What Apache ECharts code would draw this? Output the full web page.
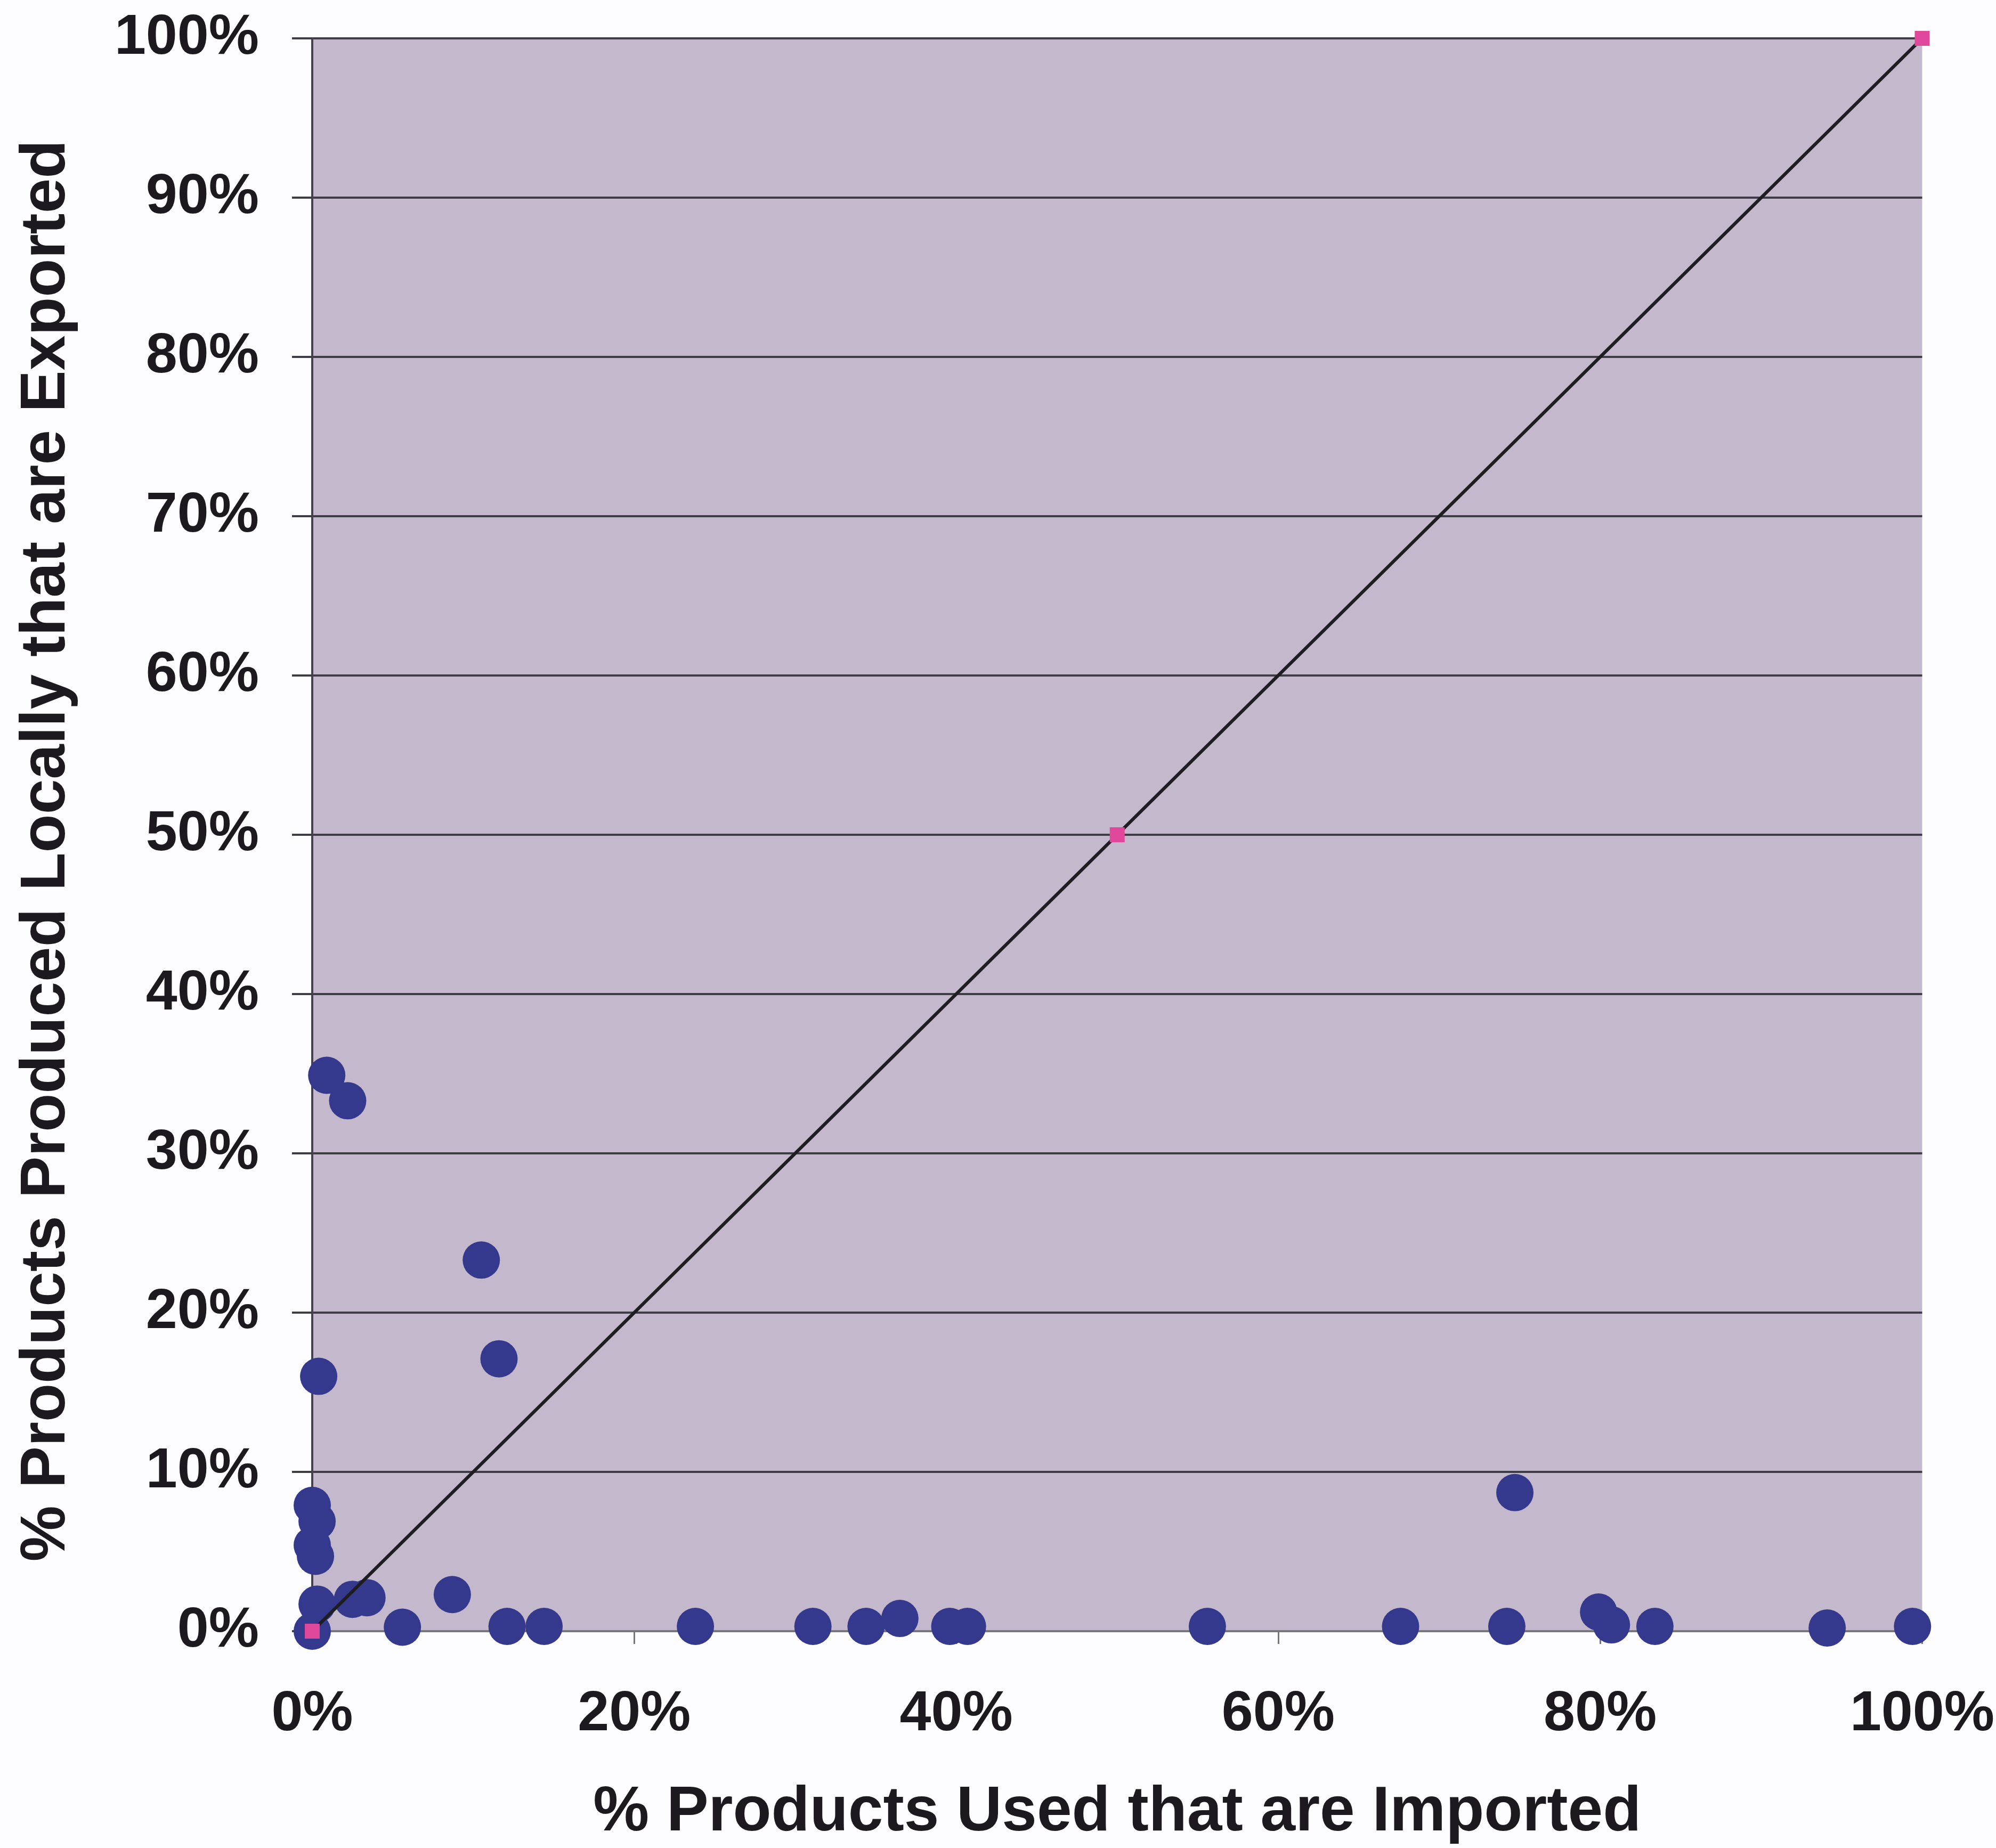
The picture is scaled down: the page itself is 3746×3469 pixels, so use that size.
<!DOCTYPE html>
<html>
<head>
<meta charset="utf-8">
<title>Imported vs Exported Products</title>
<script src="https://cdn.jsdelivr.net/npm/echarts@6/dist/echarts.min.js"></script>
<style>
  html, body { margin: 0; padding: 0; background: #fdfcff; }
  #chart { width: 3746px; height: 3469px; }
</style>
</head>
<body>
<div id="chart"></div>
<script>
// Share of products used that are imported (x) and share of locally produced
// products that are exported (y), one point per respondent, in percent.
const importedPct = [
  0, 0.3, 2.5, 3.4, 8.7, 0, 0.3, 0, 0.2, 5.6, 12.1, 14.4, 23.8, 31.1, 34.4, 36.5,
  39.6, 40.7, 55.6, 67.6, 74.2, 74.7, 79.9, 80.7, 83.4, 94.1, 99.4,
  0.9, 2.2, 10.5, 11.6, 0.4
];
const exportedPct = [
  0, 1.7, 2.0, 2.1, 2.3, 7.9, 6.9, 5.4, 4.7, 0.25, 0.3, 0.3, 0.3, 0.3, 0.3, 0.8,
  0.3, 0.3, 0.3, 0.3, 0.3, 8.7, 1.2, 0.4, 0.3, 0.2, 0.3,
  34.9, 33.3, 23.3, 17.1, 16.0
];

// Equal-share reference line (imports = exports)
const refX = [0, 50, 100];
const refY = [0, 50, 100];

// Axis ticks
const xTicks = [0, 20, 40, 60, 80, 100];
const yTicks = [0, 10, 20, 30, 40, 50, 60, 70, 80, 90, 100];

const xAxisTitle = '% Products Used that are Imported';
const yAxisTitle = '% Products Produced Locally that are Exported';

const points = importedPct.map((x, i) => [x, exportedPct[i]]);
const refLine = refX.map((x, i) => [x, refY[i]]);

const FONT = '"Liberation Sans", Arial, Helvetica, sans-serif';
const TEXT = '#1c1a1e';

const chart = echarts.init(document.getElementById('chart'), null, { renderer: 'canvas' });

chart.setOption({
  backgroundColor: '#fdfcff',
  animation: false,
  grid: {
    left: 586,
    right: 134,
    top: 72,
    bottom: 407,
    show: true,
    backgroundColor: '#c4b9cc',
    borderWidth: 0
  },
  xAxis: {
    type: 'value',
    min: xTicks[0],
    max: xTicks[xTicks.length - 1],
    interval: xTicks[1] - xTicks[0],
    name: xAxisTitle,
    nameLocation: 'middle',
    nameGap: 282,
    nameTextStyle: { fontFamily: FONT, fontWeight: 'bold', fontSize: 118, color: TEXT },
    axisLine: { show: true, lineStyle: { color: '#77767e', width: 4 } },
    axisTick: { show: true, inside: false, length: 24, lineStyle: { color: '#77767e', width: 3 } },
    axisLabel: {
      margin: 104,
      fontFamily: FONT, fontWeight: 'bold', fontSize: 106, color: TEXT,
      formatter: '{value}%'
    },
    splitLine: { show: false }
  },
  yAxis: {
    type: 'value',
    min: yTicks[0],
    max: yTicks[yTicks.length - 1],
    interval: yTicks[1] - yTicks[0],
    name: yAxisTitle,
    nameLocation: 'middle',
    nameGap: 439,
    nameTextStyle: {
      fontFamily: FONT, fontWeight: 'bold', fontSize: 118, color: TEXT,
      padding: [0, 60, 0, 0]
    },
    axisLine: { show: true, lineStyle: { color: '#45444c', width: 4 } },
    axisTick: { show: true, inside: false, length: 38, lineStyle: { color: '#3e3d46', width: 4 } },
    axisLabel: {
      margin: 100,
      fontFamily: FONT, fontWeight: 'bold', fontSize: 106, color: TEXT,
      formatter: '{value}%'
    },
    splitLine: { show: true, lineStyle: { color: '#3e3d46', width: 4 } }
  },
  series: [
    {
      type: 'scatter',
      data: points,
      symbol: 'circle',
      symbolSize: 70,
      itemStyle: { color: '#35398d', opacity: 1 },
      z: 2
    },
    {
      type: 'line',
      data: refLine,
      symbol: 'rect',
      symbolSize: 28,
      showSymbol: true,
      itemStyle: { color: '#e0489c', borderWidth: 0 },
      lineStyle: { color: '#1e1d22', width: 6 },
      z: 3
    }
  ]
});
</script>
</body>
</html>
